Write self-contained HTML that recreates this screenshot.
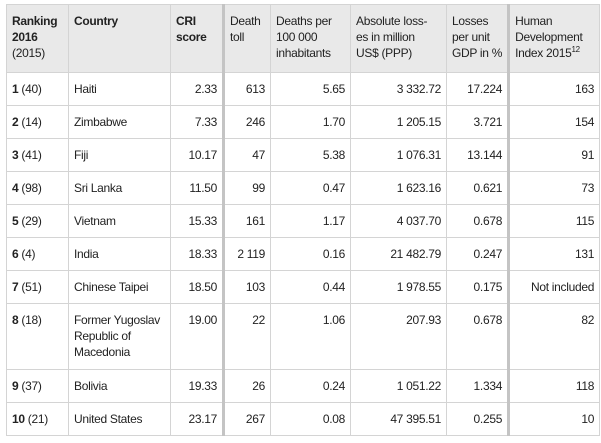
<!DOCTYPE html>
<html><head><style>
body{margin:0;width:601px;height:443px;background:#fff;overflow:hidden}
table{position:absolute;left:6px;top:4px;border-collapse:collapse;table-layout:fixed;font-family:"Liberation Sans",sans-serif;font-size:12px;letter-spacing:-0.3px;color:#222}
td,th{border:1px solid #d4d4d4;padding:0 5px;vertical-align:top;line-height:16px;overflow:hidden}
th{background:#e9e9e9;font-weight:normal;text-align:left;height:68px;padding-top:8px;box-sizing:border-box;white-space:nowrap}
td{height:33px;box-sizing:border-box;padding-top:8px}
td.r{text-align:right}
.t{border-left:3px solid #c4c4c4}
tr.tall td{height:66px}
sup{font-size:8px;line-height:0}
</style></head><body>
<table>
<colgroup><col style="width:62px"><col style="width:102px"><col style="width:53px"><col style="width:47px"><col style="width:80px"><col style="width:96px"><col style="width:61px"><col style="width:91px"></colgroup>
<tr><th><b>Ranking<br>2016</b><br>(2015)</th><th><b>Country</b></th><th><b>CRI<br>score</b></th><th class="t">Death<br>toll</th><th>Deaths per<br>100 000<br>inhabitants</th><th>Absolute loss-<br>es in million<br>US$ (PPP)</th><th>Losses<br>per unit<br>GDP in %</th><th class="t">Human<br>Development<br>Index 2015<sup>12</sup></th></tr>
<tr><td><b>1</b> (40)</td><td>Haiti</td><td class="r">2.33</td><td class="r t">613</td><td class="r">5.65</td><td class="r">3 332.72</td><td class="r">17.224</td><td class="r t">163</td></tr>
<tr><td><b>2</b> (14)</td><td>Zimbabwe</td><td class="r">7.33</td><td class="r t">246</td><td class="r">1.70</td><td class="r">1 205.15</td><td class="r">3.721</td><td class="r t">154</td></tr>
<tr><td><b>3</b> (41)</td><td>Fiji</td><td class="r">10.17</td><td class="r t">47</td><td class="r">5.38</td><td class="r">1 076.31</td><td class="r">13.144</td><td class="r t">91</td></tr>
<tr><td><b>4</b> (98)</td><td>Sri Lanka</td><td class="r">11.50</td><td class="r t">99</td><td class="r">0.47</td><td class="r">1 623.16</td><td class="r">0.621</td><td class="r t">73</td></tr>
<tr><td><b>5</b> (29)</td><td>Vietnam</td><td class="r">15.33</td><td class="r t">161</td><td class="r">1.17</td><td class="r">4 037.70</td><td class="r">0.678</td><td class="r t">115</td></tr>
<tr><td><b>6</b> (4)</td><td>India</td><td class="r">18.33</td><td class="r t">2 119</td><td class="r">0.16</td><td class="r">21 482.79</td><td class="r">0.247</td><td class="r t">131</td></tr>
<tr><td><b>7</b> (51)</td><td>Chinese Taipei</td><td class="r">18.50</td><td class="r t">103</td><td class="r">0.44</td><td class="r">1 978.55</td><td class="r">0.175</td><td class="r t">Not included</td></tr>
<tr class="tall"><td><b>8</b> (18)</td><td style="white-space:nowrap">Former Yugoslav<br>Republic of<br>Macedonia</td><td class="r">19.00</td><td class="r t">22</td><td class="r">1.06</td><td class="r">207.93</td><td class="r">0.678</td><td class="r t">82</td></tr>
<tr><td><b>9</b> (37)</td><td>Bolivia</td><td class="r">19.33</td><td class="r t">26</td><td class="r">0.24</td><td class="r">1 051.22</td><td class="r">1.334</td><td class="r t">118</td></tr>
<tr><td><b>10</b> (21)</td><td>United States</td><td class="r">23.17</td><td class="r t">267</td><td class="r">0.08</td><td class="r">47 395.51</td><td class="r">0.255</td><td class="r t">10</td></tr>
</table>
</body></html>
